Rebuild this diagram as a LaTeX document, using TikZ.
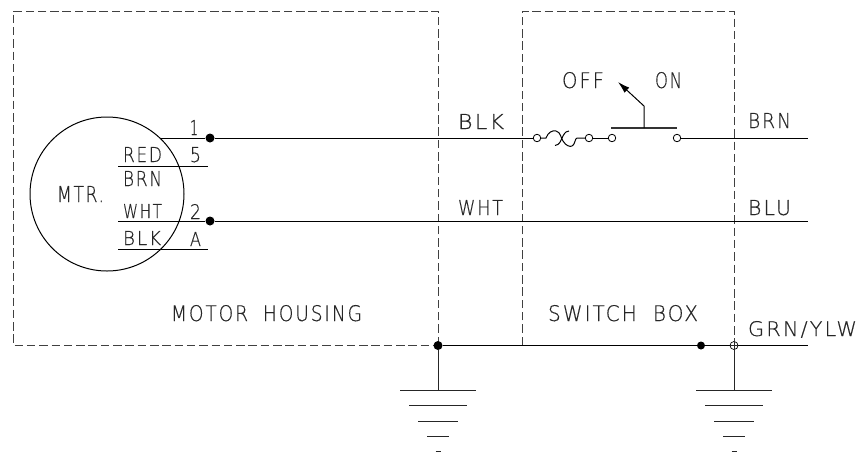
\documentclass[tikz,border=0pt]{standalone}
\usepackage{fontspec}
\setmainfont{DejaVu Sans}[UprightFont=* ExtraLight,LetterSpace=10,FakeBold=0.4,UprightFeatures={FakeBold=0.4}]
\usetikzlibrary{arrows.meta}
\tikzset{
  wire/.style={draw=black,line width=1pt},
  encl/.style={draw=black!75,line width=1pt,dash pattern=on 8.5pt off 3.8pt},
  gnd/.style={draw=black!85,line width=1pt},
  jdot/.style={circle,fill=black,inner sep=0pt,minimum size=9pt},
  term/.style={circle,draw=black,fill=white,line width=.8pt,inner sep=0pt,minimum size=7.5pt},
  lab/.style={inner sep=0pt,outer sep=0pt,anchor=north west,text=black!85},
}
\newcommand{\fitlab}[6]{\node[lab] (#1) at (#2,#3) {\resizebox{#4pt}{#5pt}{#6}};}
\begin{document}
\begin{tikzpicture}[x=1pt,y=-1pt]
\useasboundingbox (0,0) rectangle (864,456);
% enclosures
\coordinate (hNW) at (13,11); \coordinate (hNE) at (438,11);
\coordinate (hSW) at (13,345); \coordinate (hSE) at (438,345);
\coordinate (sNW) at (522,11); \coordinate (sNE) at (734,11);
\coordinate (sSW) at (522,345); \coordinate (sSE) at (734,345);
\draw[encl] (hSE) -- (hNE) -- (hNW) -- (hSW) -- (hSE);
\draw[encl] (sSW) -- (sNW) -- (sNE) -- (sSE);
% motor
\node[circle,draw=black,line width=1pt,minimum size=154pt,inner sep=0pt] (mtr) at (107,194) {};
\fitlab{tMTR}{57}{186}{47}{16}{MTR.}
% terminal strip
\coordinate (w1) at (160,138); \coordinate (w2) at (118,221);
\coordinate (r1) at (118,166); \coordinate (r2) at (208,166);
\coordinate (b1) at (118,249); \coordinate (b2) at (208,249);
\draw[wire] (r1) -- (r2);
\draw[wire] (b1) -- (b2);
\node[jdot] (d1) at (210,138) {};
\node[jdot] (d2) at (210,221) {};
\coordinate (e1) at (808,138); \coordinate (e2) at (808,221); \coordinate (e3) at (808,345.5);
\fitlab{t1}{190}{120}{8}{15}{1}
\fitlab{t5}{190}{147}{11}{15}{5}
\fitlab{t2}{190}{204}{11}{15}{2}
\fitlab{tA}{190}{232}{11}{14}{A}
\fitlab{tRED}{123}{147}{39}{15}{RED}
\fitlab{tBRN}{123}{171}{39}{15}{BRN}
\fitlab{tWHT}{123}{204}{39}{14}{WHT}
\fitlab{tBLK}{123}{231}{38}{14}{BLK}
% top wire with fuse and switch
\node[term] (c1) at (537,138) {};
\node[term] (c2) at (589,138) {};
\node[term] (c3) at (612,138) {};
\node[term] (c4) at (677,138) {};
\draw[wire] (w1) -- (d1) -- (c1);
\draw[wire] (c2) -- (c3);
\draw[wire] (c4) -- (e1);
\draw[wire] (c1.east) -- (546,138) .. controls (548,132) and (553,130) .. (556,131)
  .. controls (561,132) and (561,139) .. (563,141) .. controls (566,146) and (570,147) .. (572,146)
  .. controls (575,145) and (575,138) .. (577,138) -- (c2.west);
\draw[wire] (555,145.5) .. controls (560,145) and (561,140) .. (563,136) .. controls (565,132) and (567,131) .. (569,131);
% switch
\coordinate (b3) at (611,128); \coordinate (b4) at (677,128);
\coordinate (st1) at (644,128); \coordinate (st2) at (644,106); \coordinate (st3) at (618,82);
\draw[draw=black!80,line width=1.6pt] (b3) -- (b4);
\draw[wire,-{Latex[length=12pt,width=7pt]}] (st1) -- (st2) -- (st3);
\fitlab{tOFF}{562}{72}{42}{16}{OFF}
\fitlab{tON}{655}{72}{27}{16}{ON}
% middle wire
\draw[wire] (w2) -- (d2) -- (e2);
% ground wire
\node[jdot] (g1) at (438,345.5) {};
\node[jdot,minimum size=8pt] (g2) at (701,345.5) {};
\node[circle,draw=black,line width=.7pt,minimum size=8pt,inner sep=0pt] (g3) at (734,345.5) {};
\draw[wire] (g1) -- (g2) -- (e3);
\draw[gnd] (g3.west) -- (g3.east);
% earth 1
\foreach \n/\y/\h in {a/390/38,b/405.5/29,c/421/20,d/436/11,e/451/2.5}{
  \coordinate (la\n) at (438-\h,\y); \coordinate (ra\n) at (438+\h,\y);
  \draw[gnd] (la\n) -- (ra\n);
  \coordinate (lb\n) at (734-\h,\y); \coordinate (rb\n) at (734+\h,\y);
  \draw[gnd] (lb\n) -- (rb\n);
}
\coordinate (ga) at (438,390); \coordinate (gb) at (734,390);
\draw[gnd] (g1) -- (ga);
\draw[gnd] (g3) -- (gb);
\draw[gnd] (g3.north) -- (g3.south);
% labels
\fitlab{tBLKw}{458}{114}{46}{15}{BLK}
\fitlab{tWHTw}{458}{200}{45}{15}{WHT}
\fitlab{tBRNw}{748}{113}{43}{15}{BRN}
\fitlab{tBLU}{748}{200}{43}{15}{BLU}
\fitlab{tGY}{748}{321}{109}{15}{GRN/YLW}
\fitlab{tMH}{171}{305}{191}{16}{MOTOR\hspace{.8em}HOUSING}
\fitlab{tSB}{548}{305}{150}{16}{SWITCH\hspace{.8em}BOX}
\end{tikzpicture}
\end{document}
